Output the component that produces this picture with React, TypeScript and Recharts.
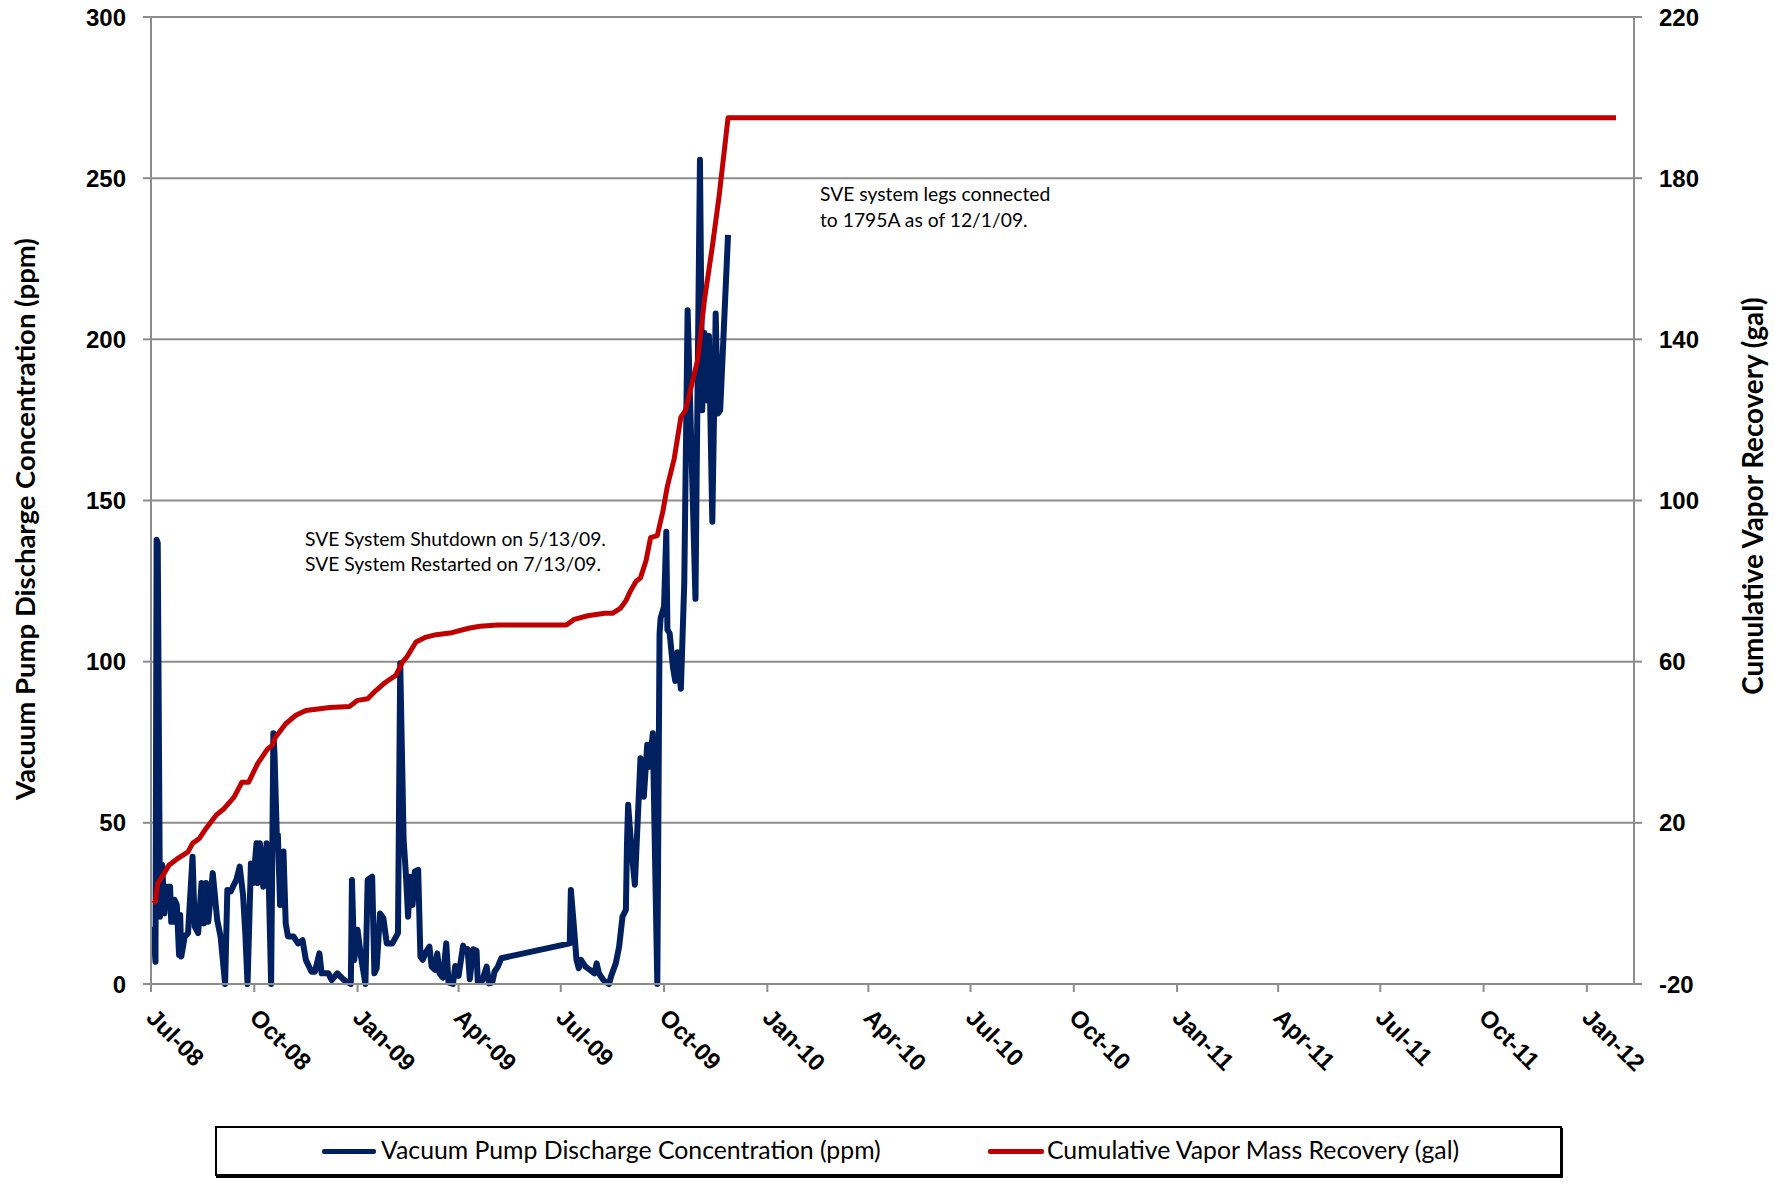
import React from "react";
import { LineChart, Line, XAxis, YAxis, CartesianGrid } from "recharts";

const W = 1775;
const H = 1188;
const BLUE = "#002060";
const RED = "#C00000";
const GRID = "#8c8c8c";
const TICK_FONT = "'Liberation Sans', Arial, sans-serif";
const TEXT_FONT = "Lato, 'Open Sans', sans-serif";

// Vacuum pump discharge concentration (ppm), left axis
const concDates = [
  "2008-07-03", "2008-07-05", "2008-07-06", "2008-07-07", "2008-07-09", "2008-07-11", "2008-07-13",
  "2008-07-15", "2008-07-18", "2008-07-19", "2008-07-21", "2008-07-22", "2008-07-24", "2008-07-26",
  "2008-07-27", "2008-07-28", "2008-07-31", "2008-08-03", "2008-08-07", "2008-08-09", "2008-08-12",
  "2008-08-15", "2008-08-17", "2008-08-19", "2008-08-21", "2008-08-25", "2008-08-29", "2008-09-01",
  "2008-09-05", "2008-09-07", "2008-09-10", "2008-09-12", "2008-09-15", "2008-09-18", "2008-09-21",
  "2008-09-23", "2008-09-25", "2008-09-28", "2008-09-30", "2008-10-03", "2008-10-04", "2008-10-06",
  "2008-10-09", "2008-10-12", "2008-10-14", "2008-10-16", "2008-10-18", "2008-10-19", "2008-10-21",
  "2008-10-22", "2008-10-24", "2008-10-27", "2008-10-29", "2008-10-31", "2008-11-05", "2008-11-09",
  "2008-11-13", "2008-11-16", "2008-11-21", "2008-11-24", "2008-11-28", "2008-11-30", "2008-12-06",
  "2008-12-09", "2008-12-14", "2008-12-20", "2008-12-26", "2008-12-27", "2008-12-29", "2009-01-01",
  "2009-01-04", "2009-01-08", "2009-01-10", "2009-01-14", "2009-01-16", "2009-01-18", "2009-01-21",
  "2009-01-24", "2009-01-27", "2009-02-01", "2009-02-06", "2009-02-08", "2009-02-11", "2009-02-13",
  "2009-02-15", "2009-02-17", "2009-02-19", "2009-02-21", "2009-02-24", "2009-02-26", "2009-02-28",
  "2009-03-03", "2009-03-06", "2009-03-08", "2009-03-11", "2009-03-13", "2009-03-15", "2009-03-18",
  "2009-03-21", "2009-03-23", "2009-03-27", "2009-03-29", "2009-04-01", "2009-04-05", "2009-04-07",
  "2009-04-09", "2009-04-11", "2009-04-14", "2009-04-17", "2009-04-18", "2009-04-22", "2009-04-26",
  "2009-04-28", "2009-05-01", "2009-05-03", "2009-05-06", "2009-05-09",
  "2009-07-09", "2009-07-10", "2009-07-12", "2009-07-15", "2009-07-17", "2009-07-19", "2009-07-23",
  "2009-07-27", "2009-07-31", "2009-08-02", "2009-08-04", "2009-08-08", "2009-08-13", "2009-08-15",
  "2009-08-19", "2009-08-22", "2009-08-25", "2009-08-28", "2009-08-29", "2009-08-30", "2009-09-02",
  "2009-09-05", "2009-09-10", "2009-09-13", "2009-09-16", "2009-09-18", "2009-09-21", "2009-09-25",
  "2009-09-27", "2009-09-28", "2009-10-01", "2009-10-03", "2009-10-04", "2009-10-06", "2009-10-09",
  "2009-10-11", "2009-10-13", "2009-10-16", "2009-10-19", "2009-10-22", "2009-10-29", "2009-10-30",
  "2009-11-02", "2009-11-04", "2009-11-06", "2009-11-09", "2009-11-10", "2009-11-13", "2009-11-16",
  "2009-11-18", "2009-11-20", "2009-11-27",
];
const concValues = [
  17.8, 6.9, 137.8, 136.8, 20.9, 36.9, 21.9,
  30.2, 30.2, 19.3, 19.3, 26.1, 24.5, 9.0,
  21.4, 8.5, 14.7, 15.8, 39.5, 17.8, 15.8,
  31.3, 18.8, 31.3, 19.3, 34.4, 19.8, 14.7,
  0, 29.2, 28.7, 30.2, 32.3, 36.4, 27.6,
  15.8, 0, 37.4, 31.3, 43.7, 31.3, 43.7,
  30.2, 43.7, 30.2, 0, 77.8, 71.6, 46.8,
  46.3, 24.5, 41.1, 18.8, 14.7, 14.7, 12.6,
  13.6, 7.4, 3.8, 3.8, 9.5, 3.3, 3.3,
  1.2, 3.3, 1.2, 0, 32.3, 7.4, 16.8,
  8.5, 0, 32.3, 33.3, 3.3, 4.9, 21.9,
  20.4, 12.6, 12.6, 15.8, 99.5, 45.0, 34.4,
  20.9, 33.3, 24.5, 34.9, 35.4, 8.5, 7.5,
  10.0, 11.6, 5.4, 4.4, 9.5, 3.3, 2.0,
  12.6, 0.5, 0, 5.6, 2.5, 11.9, 10.3,
  10.8, 1.5, 10.8, 10.3, 1.0, 1.0, 5.4,
  0.2, 0.5, 3.8, 5.4, 8.0,
  12.6, 29.2, 20.9, 7.5, 4.9, 7.5, 5.4,
  4.4, 3.3, 6.4, 3.3, 1.2, 0, 2.6,
  6.4, 11.6, 20.9, 23.0, 43.7, 55.6, 41.7,
  30.8, 70.0, 58.1, 74.2, 67.4, 77.8, 0,
  108.8, 113.6, 117.1, 140.3, 109.9, 108.8, 98.1,
  94.0, 102.9, 91.6, 124.3, 209.0, 119.5, 156.0,
  255.7, 178.0, 202.0, 181.0, 201.0, 143.4, 208.0,
  177.0, 178.0, 232.4,
];

// Cumulative vapor mass recovery (gal), right axis
const recDates = [
  "2008-07-03", "2008-07-05", "2008-07-07", "2008-07-10", "2008-07-17", "2008-07-25", "2008-08-03",
  "2008-08-07", "2008-08-13", "2008-08-19", "2008-08-28", "2008-09-04", "2008-09-13", "2008-09-20",
  "2008-09-26", "2008-10-04", "2008-10-13", "2008-10-17", "2008-10-20", "2008-10-29", "2008-11-07",
  "2008-11-16", "2008-11-25", "2008-12-07", "2008-12-25", "2009-01-01", "2009-01-10", "2009-01-16",
  "2009-01-26", "2009-02-04", "2009-02-10", "2009-02-14", "2009-02-22", "2009-03-03", "2009-03-12",
  "2009-03-26", "2009-04-10", "2009-04-20", "2009-05-06", "2009-05-13", "2009-07-06", "2009-07-13",
  "2009-07-25", "2009-08-09", "2009-08-16", "2009-08-23", "2009-08-28", "2009-09-01", "2009-09-06",
  "2009-09-10", "2009-09-15", "2009-09-19", "2009-09-25", "2009-09-30", "2009-10-04", "2009-10-10",
  "2009-10-16", "2009-10-20", "2009-10-31", "2009-11-06", "2009-11-13", "2009-11-19", "2009-11-27",
  "2009-12-31", "2010-06-30", "2010-12-31", "2011-06-30", "2012-01-27",
];
const recValues = [
  0.0, 0.5, 5.0, 6.2, 9.5, 11.2, 12.8,
  14.9, 16.1, 18.6, 21.9, 23.5, 26.4, 30.1,
  30.1, 34.7, 38.4, 39.2, 41.3, 44.6, 46.7,
  47.9, 48.2, 48.6, 48.9, 50.4, 50.8, 52.5,
  54.9, 56.6, 59.9, 61.2, 64.9, 66.1, 66.7,
  67.2, 68.3, 68.8, 69.1, 69.1, 69.1, 70.5,
  71.4, 72.0, 72.0, 73.2, 75.1, 77.5, 79.9,
  80.8, 85.1, 90.8, 91.3, 97.4, 103.6, 110.3,
  120.7, 122.3, 134.9, 149.8, 163.0, 175.4, 195.0,
  195.0, 195.0, 195.0, 195.0, 195.0,
];

const xTickDates = [
  "2008-07-01", "2008-10-01", "2009-01-01", "2009-04-01", "2009-07-01", "2009-10-01", "2010-01-01",
  "2010-04-01", "2010-07-01", "2010-10-01", "2011-01-01", "2011-04-01", "2011-07-01", "2011-10-01",
  "2012-01-01",
];
const xTickLabels = [
  "Jul-08", "Oct-08", "Jan-09", "Apr-09", "Jul-09", "Oct-09", "Jan-10",
  "Apr-10", "Jul-10", "Oct-10", "Jan-11", "Apr-11", "Jul-11", "Oct-11",
  "Jan-12",
];
const xStart = "2008-07-01";
const xEnd = "2012-02-12";
const leftTicks = [0, 50, 100, 150, 200, 250, 300];
const rightTicks = [-20, 20, 60, 100, 140, 180, 220];

const toT = (s: string) => Date.parse(s + "T00:00:00Z");

type Row = { t: number; conc: number | null; rec: number | null };

function buildRows(): Row[] {
  const map = new Map<number, Row>();
  const get = (d: string) => {
    const t = toT(d);
    if (!map.has(t)) map.set(t, { t, conc: null, rec: null });
    return map.get(t)!;
  };
  concDates.forEach((d, i) => (get(d).conc = concValues[i]));
  recDates.forEach((d, i) => (get(d).rec = recValues[i]));
  return Array.from(map.values()).sort((a, b) => a.t - b.t);
}

const rows = buildRows();
const tickLabelByT = new Map(xTickDates.map((d, i) => [toT(d), xTickLabels[i]]));

function XTick(props: any) {
  const { x, y, payload } = props;
  const ax = x - 6;
  const ay = y + 25;
  return (
    <text
      x={ax}
      y={ay}
      transform={`rotate(45, ${ax}, ${ay})`}
      textAnchor="start"
      fontFamily={TICK_FONT}
      fontWeight="bold"
      fontSize={24}
      fill="#000"
    >
      {tickLabelByT.get(payload.value)}
    </text>
  );
}

const tickStyle = {
  fontFamily: TICK_FONT,
  fontWeight: "bold" as const,
  fontSize: 24,
  fill: "#000",
};

function RotatedTitle({ cx, cy, text, size }: { cx: number; cy: number; text: string; size: number }) {
  return (
    <div
      style={{
        position: "absolute",
        left: cx - 400,
        top: cy - 17,
        width: 800,
        height: 34,
        lineHeight: "34px",
        textAlign: "center",
        transform: "rotate(-90deg)",
        fontFamily: TEXT_FONT,
        fontWeight: 700,
        fontSize: size,
        color: "#000",
        whiteSpace: "nowrap",
      }}
    >
      {text}
    </div>
  );
}

const noteStyle: React.CSSProperties = {
  position: "absolute",
  fontFamily: TEXT_FONT,
  fontSize: 19.3,
  lineHeight: "24.5px",
  color: "#000",
  whiteSpace: "nowrap",
};

export default function App() {
  return (
    <div
      style={{
        position: "absolute",
        left: 0,
        top: 0,
        width: W,
        height: H,
        background: "#fff",
        overflow: "hidden",
      }}
    >
      <LineChart
        width={W}
        height={H}
        data={rows}
        margin={{ top: 17, right: 41, bottom: 104, left: 51 }}
      >
        <CartesianGrid
          yAxisId="left"
          vertical={false}
          stroke={GRID}
          strokeWidth={2}
        />
        <XAxis
          dataKey="t"
          type="number"
          domain={[toT(xStart), toT(xEnd)]}
          ticks={xTickDates.map(toT)}
          interval={0}
          allowDataOverflow
          height={100}
          tickSize={8}
          tick={<XTick />}
          axisLine={{ stroke: GRID, strokeWidth: 2 }}
          tickLine={{ stroke: GRID, strokeWidth: 2 }}
        />
        <YAxis
          yAxisId="left"
          orientation="left"
          domain={[0, 300]}
          ticks={leftTicks}
          interval={0}
          width={100}
          tickSize={8}
          tickMargin={17}
          tick={tickStyle}
          axisLine={{ stroke: GRID, strokeWidth: 2 }}
          tickLine={{ stroke: GRID, strokeWidth: 2 }}
        />
        <YAxis
          yAxisId="right"
          orientation="right"
          domain={[-20, 220]}
          ticks={rightTicks}
          interval={0}
          width={100}
          tickSize={8}
          tickMargin={17}
          tick={{ ...tickStyle, textAnchor: "start" }}
          axisLine={{ stroke: GRID, strokeWidth: 2 }}
          tickLine={{ stroke: GRID, strokeWidth: 2 }}
        />
        <Line
          yAxisId="left"
          type="linear"
          dataKey="conc"
          stroke={BLUE}
          strokeWidth={6}
          strokeLinejoin="round"
          dot={false}
          connectNulls
          isAnimationActive={false}
        />
        <Line
          yAxisId="right"
          type="linear"
          dataKey="rec"
          stroke={RED}
          strokeWidth={5}
          strokeLinejoin="round"
          dot={false}
          connectNulls
          isAnimationActive={false}
        />
      </LineChart>

      <RotatedTitle cx={25} cy={519} size={27.5} text="Vacuum Pump Discharge Concentration (ppm)" />
      <RotatedTitle cx={1753} cy={496} size={27.8} text="Cumulative Vapor Recovery (gal)" />

      <div style={{ ...noteStyle, left: 305, top: 527 }}>
        SVE System Shutdown on 5/13/09.
        <br />
        SVE System Restarted on 7/13/09.
      </div>
      <div style={{ ...noteStyle, left: 820, top: 181, lineHeight: "25.5px" }}>
        SVE system legs connected
        <br />
        to 1795A as of 12/1/09.
      </div>

      <div
        style={{
          position: "absolute",
          left: 215,
          top: 1126,
          width: 1343,
          height: 46,
          border: "2px solid #000",
          boxShadow: "1px 2px 0 #000",
          fontFamily: TEXT_FONT,
          fontSize: 24.8,
          color: "#000",
        }}
      >
        <div style={{ position: "absolute", left: 105, top: 21, width: 54, height: 5, background: BLUE, borderRadius: 2 }} />
        <div style={{ position: "absolute", left: 164, top: 6, lineHeight: "32px", whiteSpace: "nowrap" }}>
          Vacuum Pump Discharge Concentration (ppm)
        </div>
        <div style={{ position: "absolute", left: 771, top: 21, width: 56, height: 5, background: RED, borderRadius: 2 }} />
        <div style={{ position: "absolute", left: 830, top: 6, lineHeight: "32px", whiteSpace: "nowrap" }}>
          Cumulative Vapor Mass Recovery (gal)
        </div>
      </div>
    </div>
  );
}
